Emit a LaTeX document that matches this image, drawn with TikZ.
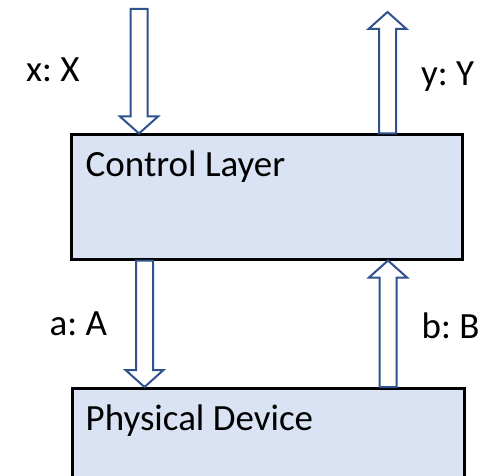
\documentclass[tikz,border=0pt]{standalone}
\usepackage{fontspec}
\setmainfont{Carlito}
\usetikzlibrary{calc}
\frenchspacing

\definecolor{boxfill}{HTML}{DAE3F3}
\definecolor{arrowblue}{HTML}{2F528F}

\tikzset{
  layerbox/.style={draw=black, line width=3pt, fill=boxfill, inner sep=0pt},
  blockarrow/.style={draw=arrowblue, line width=2pt, fill=white, line join=miter},
  txt/.style={inner sep=0pt, anchor=base west, font=\fontsize{37}{44}\selectfont\frenchspacing},
}

% hollow block arrow from tail #1 to tip #2 (vertical)
\newcommand{\hollowarrow}[2]{%
  \draw[blockarrow] let \p1=(#1), \p2=(#2),
      \n1={\y2+ifthenelse(\y2>\y1,-17pt,17pt)} in
    (\x1-8.5pt,\n1) -- (\x1-19pt,\n1) -- (\x2,\y2)
    -- (\x1+19pt,\n1) -- (\x1+8.5pt,\n1) -- (\x1+8.5pt,\y1) -- (\x1-8.5pt,\y1) -- cycle;}

\begin{document}
\begin{tikzpicture}[x=1pt,y=-1pt]
  \useasboundingbox (0,0) rectangle (485,476);
  \clip (0,0) rectangle (485,476);

  % layers
  \node[layerbox, minimum width=391pt, minimum height=124pt] (ctrl) at (266.5,197) {};
  \node[layerbox, minimum width=392pt, minimum height=160pt, anchor=north west] (phys) at (71,387) {};
  \node[txt] (ctrltxt) at (85.5,177) {Control Layer};
  \node[txt] (phystxt) at (85.5,430) {Physical Device};

  % arrow ends
  \coordinate (xin) at (139,9);
  \coordinate (yout) at (387.5,12);
  \coordinate (acol) at (144.5,0);
  \coordinate (bcol) at (388,0);

  \hollowarrow{xin}{xin |- ctrl.north}
  \hollowarrow{yout |- ctrl.north}{yout}
  \hollowarrow{acol |- ctrl.south}{acol |- phys.north}
  \hollowarrow{bcol |- phys.north}{bcol |- ctrl.south}

  % labels
  \node[txt] (xlbl) at (26,82) {x: X};
  \node[txt] (ylbl) at (421,86) {y: Y};
  \node[txt] (albl) at (49.5,335) {a: A};
  \node[txt] (blbl) at (421.5,338) {b: B};
\end{tikzpicture}
\end{document}
